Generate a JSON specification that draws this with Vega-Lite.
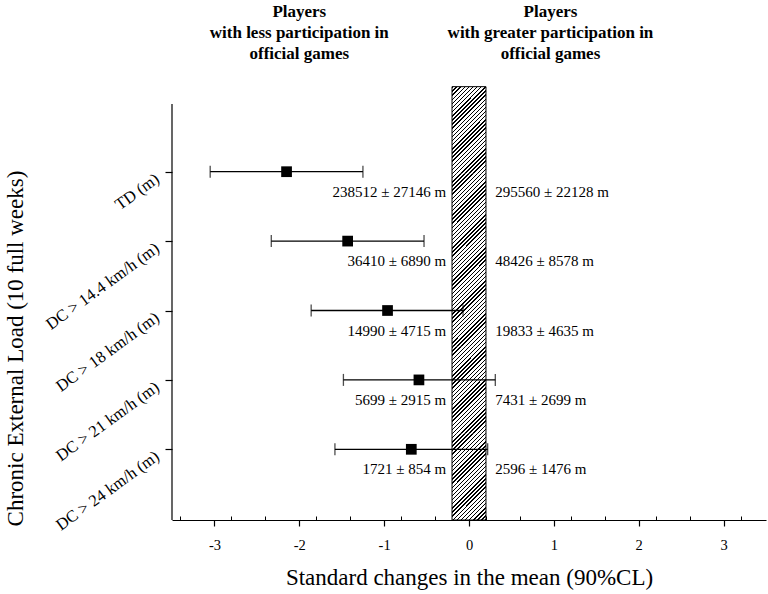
{
  "$schema": "https://vega.github.io/schema/vega-lite/v6.json",
  "width": 594,
  "height": 520,
  "autosize": {"type": "none"},
  "padding": {"left": 172, "top": 0, "right": 2, "bottom": 74},
  "background": "white",
  "data": {
    "values": [
      {"variable": "TD (m)", "mean": -2.15, "lower": -3.05, "upper": -1.25, "less": "238512 ± 27146 m", "greater": "295560 ± 22128 m"},
      {"variable": "DC > 14.4 km/h (m)", "mean": -1.43, "lower": -2.33, "upper": -0.53, "less": "36410 ± 6890 m", "greater": "48426 ± 8578 m"},
      {"variable": "DC > 18 km/h (m)", "mean": -0.96, "lower": -1.86, "upper": -0.07, "less": "14990 ± 4715 m", "greater": "19833 ± 4635 m"},
      {"variable": "DC > 21 km/h (m)", "mean": -0.59, "lower": -1.48, "upper": 0.31, "less": "5699 ± 2915 m", "greater": "7431 ± 2699 m"},
      {"variable": "DC > 24 km/h (m)", "mean": -0.68, "lower": -1.58, "upper": 0.22, "less": "1721 ± 854 m", "greater": "2596 ± 1476 m"}
    ]
  },
  "layer": [
    {
      "data": {"values": [{}]},
      "layer": [
        {"mark": {"type": "rect", "strokeWidth": 0},
         "encoding": {"x": {"datum": -0.2}, "x2": {"datum": 0.2}, "y": {"datum": 0, "scale": {"domain": [0, 7.5]}, "axis": null}, "y2": {"datum": 1.25}}},
        {"mark": {"type": "rect", "strokeWidth": 0},
         "encoding": {"x": {"datum": -0.2}, "x2": {"datum": 0.2}, "y": {"datum": 1.25, "scale": {"domain": [0, 7.5]}, "axis": null}, "y2": {"datum": 2.5}}},
        {"mark": {"type": "rect", "strokeWidth": 0},
         "encoding": {"x": {"datum": -0.2}, "x2": {"datum": 0.2}, "y": {"datum": 2.5, "scale": {"domain": [0, 7.5]}, "axis": null}, "y2": {"datum": 3.75}}},
        {"mark": {"type": "rect", "strokeWidth": 0},
         "encoding": {"x": {"datum": -0.2}, "x2": {"datum": 0.2}, "y": {"datum": 3.75, "scale": {"domain": [0, 7.5]}, "axis": null}, "y2": {"datum": 5}}},
        {"mark": {"type": "rect", "strokeWidth": 0},
         "encoding": {"x": {"datum": -0.2}, "x2": {"datum": 0.2}, "y": {"datum": 5, "scale": {"domain": [0, 7.5]}, "axis": null}, "y2": {"datum": 6.25}}},
        {"mark": {"type": "rect", "fill": "transparent", "stroke": "black", "strokeWidth": 1},
         "encoding": {"x": {"datum": -0.2}, "x2": {"datum": 0.2}, "y": {"datum": 0, "scale": {"domain": [0, 7.5]}, "axis": null}, "y2": {"datum": 6.25}}},
        {"mark": {"type": "rule", "color": "black", "strokeWidth": 1.2},
         "encoding": {
           "x": {"datum": -3.5, "axis": {"orient": "bottom", "values": [-3.4, -3.2, -2.8, -2.6, -2.4, -2.2, -1.8, -1.6, -1.4, -1.2, -0.8, -0.6, -0.4, -0.2, 0.2, 0.4, 0.6, 0.8, 1.2, 1.4, 1.6, 1.8, 2.2, 2.4, 2.6, 2.8, 3.2, 3.4], "tickSize": -4, "tickWidth": 1, "labels": false, "domain": false, "title": null}},
           "y": {"datum": 0, "scale": {"domain": [0, 7.5]}, "axis": null},
           "y2": {"datum": 6}
         }},
        {"mark": {"type": "text", "align": "center", "baseline": "alphabetic", "fontSize": 17, "fontWeight": "bold", "lineHeight": 21, "lineBreak": "\n", "font": "Liberation Serif", "color": "black"},
         "encoding": {"x": {"datum": -2}, "y": {"datum": 7.255, "scale": {"domain": [0, 7.5]}, "axis": null}, "text": {"value": "Players\nwith less participation in\nofficial games"}}},
        {"mark": {"type": "text", "align": "center", "baseline": "alphabetic", "fontSize": 17, "fontWeight": "bold", "lineHeight": 21, "lineBreak": "\n", "font": "Liberation Serif", "color": "black"},
         "encoding": {"x": {"datum": 0.96}, "y": {"datum": 7.255, "scale": {"domain": [0, 7.5]}, "axis": null}, "text": {"value": "Players\nwith greater participation in\nofficial games"}}}
      ]
    },
    {
      "layer": [
        {"mark": {"type": "rule", "color": "black", "strokeWidth": 1.3},
         "encoding": {
           "x": {"field": "lower", "type": "quantitative",
                 "scale": {"domain": [-3.5, 3.5], "nice": false, "zero": false},
                 "axis": {"orient": "bottom", "values": [-3, -2, -1, 0, 1, 2, 3], "labelExpr": "'' + datum.value", "tickSize": 6, "tickWidth": 1.2, "domainWidth": 1.2, "labelPadding": 12, "labelFontSize": 14.5, "title": "Standard changes in the mean (90%CL)", "titleFontSize": 23, "titlePadding": 15}},
           "x2": {"field": "upper"},
           "y": {"field": "variable", "type": "nominal",
                 "scale": {"type": "point", "domain": ["TD (m)", "DC > 14.4 km/h (m)", "DC > 18 km/h (m)", "DC > 21 km/h (m)", "DC > 24 km/h (m)"], "range": [171.7, 449.3], "padding": 0},
                 "axis": {"title": "Chronic External Load (10 full weeks)", "labelAngle": -36, "labelAlign": "right", "labelBaseline": "middle", "labelFontSize": 16.5, "labelPadding": 8, "labelOffset": 5, "tickSize": 7, "tickWidth": 1.2, "domain": false, "titleFontSize": 23, "titleX": -145, "titleY": 348}}
         }},
        {"mark": {"type": "tick", "color": "black", "thickness": 1.3, "size": 12, "orient": "vertical"},
         "encoding": {"x": {"field": "lower", "type": "quantitative"}, "y": {"field": "variable", "type": "nominal"}}},
        {"mark": {"type": "tick", "color": "black", "thickness": 1.3, "size": 12, "orient": "vertical"},
         "encoding": {"x": {"field": "upper", "type": "quantitative"}, "y": {"field": "variable", "type": "nominal"}}},
        {"mark": {"type": "square", "color": "black", "size": 115, "opacity": 1, "filled": true},
         "encoding": {"x": {"field": "mean", "type": "quantitative"}, "y": {"field": "variable", "type": "nominal"}}},
        {"mark": {"type": "text", "align": "right", "baseline": "middle", "dy": 20, "fontSize": 15, "font": "Liberation Serif", "color": "black"},
         "encoding": {"x": {"datum": -0.27}, "y": {"field": "variable", "type": "nominal"}, "text": {"field": "less"}}},
        {"mark": {"type": "text", "align": "left", "baseline": "middle", "dy": 20, "fontSize": 15, "font": "Liberation Serif", "color": "black"},
         "encoding": {"x": {"datum": 0.31}, "y": {"field": "variable", "type": "nominal"}, "text": {"field": "greater"}}}
      ]
    }
  ],
  "resolve": {"scale": {"y": "independent"}, "axis": {"x": "independent", "y": "independent"}},
  "config": {
    "font": "Liberation Serif",
    "view": {"stroke": null},
    "axis": {"grid": false, "labelColor": "black", "titleColor": "black", "tickColor": "black", "domainColor": "black", "labelFont": "Liberation Serif", "titleFont": "Liberation Serif", "titleFontWeight": "normal"},
    "rect": {
      "fill": {
        "gradient": "linear", "x1": 0, "y1": 0, "x2": 0.4733, "y2": 1.2066,
        "stops": [
          {"offset": 0, "color": "black"}, {"offset": 0.012, "color": "black"}, {"offset": 0.012, "color": "white"}, {"offset": 0.0342, "color": "white"},
          {"offset": 0.0342, "color": "black"}, {"offset": 0.0462, "color": "black"}, {"offset": 0.0462, "color": "white"}, {"offset": 0.0684, "color": "white"},
          {"offset": 0.0684, "color": "black"}, {"offset": 0.0804, "color": "black"}, {"offset": 0.0804, "color": "white"}, {"offset": 0.1026, "color": "white"},
          {"offset": 0.1026, "color": "black"}, {"offset": 0.1146, "color": "black"}, {"offset": 0.1146, "color": "white"}, {"offset": 0.1368, "color": "white"},
          {"offset": 0.1368, "color": "black"}, {"offset": 0.1488, "color": "black"}, {"offset": 0.1488, "color": "white"}, {"offset": 0.171, "color": "white"},
          {"offset": 0.171, "color": "black"}, {"offset": 0.183, "color": "black"}, {"offset": 0.183, "color": "white"}, {"offset": 0.2052, "color": "white"},
          {"offset": 0.2052, "color": "black"}, {"offset": 0.2172, "color": "black"}, {"offset": 0.2172, "color": "white"}, {"offset": 0.2394, "color": "white"},
          {"offset": 0.2394, "color": "black"}, {"offset": 0.2514, "color": "black"}, {"offset": 0.2514, "color": "white"}, {"offset": 0.2736, "color": "white"},
          {"offset": 0.2736, "color": "black"}, {"offset": 0.2856, "color": "black"}, {"offset": 0.2856, "color": "white"}, {"offset": 0.3078, "color": "white"},
          {"offset": 0.3078, "color": "black"}, {"offset": 0.3198, "color": "black"}, {"offset": 0.3198, "color": "white"}, {"offset": 0.342, "color": "white"},
          {"offset": 0.342, "color": "black"}, {"offset": 0.354, "color": "black"}, {"offset": 0.354, "color": "white"}, {"offset": 0.3762, "color": "white"},
          {"offset": 0.3762, "color": "black"}, {"offset": 0.3882, "color": "black"}, {"offset": 0.3882, "color": "white"}, {"offset": 0.4104, "color": "white"},
          {"offset": 0.4104, "color": "black"}, {"offset": 0.4224, "color": "black"}, {"offset": 0.4224, "color": "white"}, {"offset": 0.4446, "color": "white"},
          {"offset": 0.4446, "color": "black"}, {"offset": 0.4566, "color": "black"}, {"offset": 0.4566, "color": "white"}, {"offset": 0.4788, "color": "white"},
          {"offset": 0.4788, "color": "black"}, {"offset": 0.4908, "color": "black"}, {"offset": 0.4908, "color": "white"}, {"offset": 0.513, "color": "white"},
          {"offset": 0.513, "color": "black"}, {"offset": 0.525, "color": "black"}, {"offset": 0.525, "color": "white"}, {"offset": 0.5472, "color": "white"},
          {"offset": 0.5472, "color": "black"}, {"offset": 0.5592, "color": "black"}, {"offset": 0.5592, "color": "white"}, {"offset": 0.5814, "color": "white"},
          {"offset": 0.5814, "color": "black"}, {"offset": 0.5934, "color": "black"}, {"offset": 0.5934, "color": "white"}, {"offset": 0.6156, "color": "white"},
          {"offset": 0.6156, "color": "black"}, {"offset": 0.6276, "color": "black"}, {"offset": 0.6276, "color": "white"}, {"offset": 0.6498, "color": "white"},
          {"offset": 0.6498, "color": "black"}, {"offset": 0.6618, "color": "black"}, {"offset": 0.6618, "color": "white"}, {"offset": 0.684, "color": "white"},
          {"offset": 0.684, "color": "black"}, {"offset": 0.696, "color": "black"}, {"offset": 0.696, "color": "white"}, {"offset": 0.7182, "color": "white"},
          {"offset": 0.7182, "color": "black"}, {"offset": 0.7302, "color": "black"}, {"offset": 0.7302, "color": "white"}, {"offset": 0.7524, "color": "white"},
          {"offset": 0.7524, "color": "black"}, {"offset": 0.7644, "color": "black"}, {"offset": 0.7644, "color": "white"}, {"offset": 0.7866, "color": "white"},
          {"offset": 0.7866, "color": "black"}, {"offset": 0.7986, "color": "black"}, {"offset": 0.7986, "color": "white"}, {"offset": 0.8208, "color": "white"},
          {"offset": 0.8208, "color": "black"}, {"offset": 0.8328, "color": "black"}, {"offset": 0.8328, "color": "white"}, {"offset": 0.855, "color": "white"},
          {"offset": 0.855, "color": "black"}, {"offset": 0.867, "color": "black"}, {"offset": 0.867, "color": "white"}, {"offset": 0.8892, "color": "white"},
          {"offset": 0.8892, "color": "black"}, {"offset": 0.9012, "color": "black"}, {"offset": 0.9012, "color": "white"}, {"offset": 0.9234, "color": "white"},
          {"offset": 0.9234, "color": "black"}, {"offset": 0.9354, "color": "black"}, {"offset": 0.9354, "color": "white"}, {"offset": 0.9576, "color": "white"},
          {"offset": 0.9576, "color": "black"}, {"offset": 0.9696, "color": "black"}, {"offset": 0.9696, "color": "white"}, {"offset": 0.9918, "color": "white"},
          {"offset": 0.9918, "color": "black"}, {"offset": 1, "color": "black"}
        ]
      }
    }
  }
}
